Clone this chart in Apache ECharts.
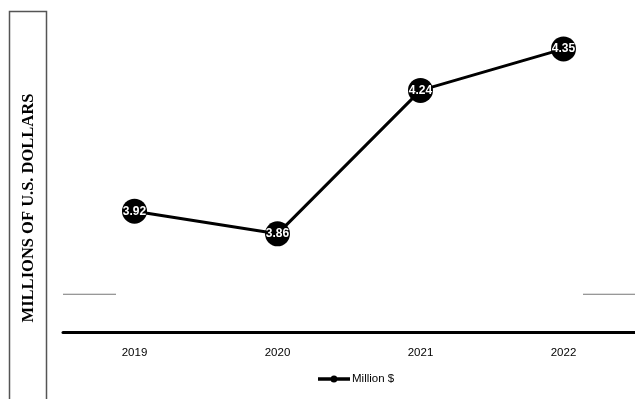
<!DOCTYPE html>
<html>
<head>
<meta charset="utf-8">
<script src="https://cdn.jsdelivr.net/npm/echarts@6/dist/echarts.min.js"></script>
<style>
  html, body { margin: 0; padding: 0; background: #fff; }
  #chart { width: 635px; height: 399px; }
</style>
</head>
<body>
<div id="chart"></div>
<script>
// Annual values in millions of U.S. dollars
const years = ['2019', '2020', '2021', '2022'];
const millions = [3.92, 3.86, 4.24, 4.35];
const seriesName = 'Million $';
const axisTitle = 'MILLIONS OF U.S. DOLLARS';
const yMin = 3.6;
const yMax = 4.4;
const refLevel = 3.7;

const chart = echarts.init(document.getElementById('chart'), null, { renderer: 'canvas' });

chart.setOption({
  animation: false,
  backgroundColor: '#ffffff',
  grid: { left: 63, right: 0, top: 30, bottom: 67, containLabel: false },
  legend: {
    bottom: 9,
    left: 313,
    itemWidth: 32,
    itemHeight: 8,
    itemGap: 4,
    textStyle: { fontFamily: 'Liberation Sans', fontSize: 11.5, color: '#000', padding: [0, 0, 0, -3] },
    data: [{
      name: seriesName,
      // line with a small point marker in the middle
      icon: 'path://M0,2.3 L32,2.3 L32,5.7 L0,5.7 Z M16,0.5 A3.5,3.5 0 1 1 15.99,0.5 Z'
    }]
  },
  xAxis: {
    type: 'category',
    data: years,
    boundaryGap: true,
    axisLine: { show: true, lineStyle: { color: '#000', width: 3 } },
    axisTick: { show: false },
    axisLabel: { color: '#000', fontFamily: 'Liberation Sans', fontSize: 11.5, margin: 15 },
    splitLine: { show: false }
  },
  yAxis: {
    type: 'value',
    min: yMin,
    max: yMax,
    axisLine: { show: false },
    axisTick: { show: false },
    axisLabel: { show: false },
    splitLine: { show: false }
  },
  series: [{
    name: seriesName,
    type: 'line',
    data: millions,
    symbol: 'circle',
    symbolSize: 25,
    itemStyle: { color: '#000' },
    lineStyle: { color: '#000', width: 3 },
    label: {
      show: true,
      position: 'inside',
      color: '#fff',
      fontWeight: 'bold',
      fontFamily: 'Liberation Sans',
      fontSize: 12,
      formatter: p => p.value.toFixed(2)
    }
  }]
});

// Side panel with the rotated axis title, and the visible ends of the reference level line
const refY = chart.convertToPixel({ yAxisIndex: 0 }, refLevel);
chart.setOption({
  graphic: [
    {
      type: 'rect',
      shape: { x: 9.5, y: 11.5, width: 37, height: 400 },
      style: { fill: 'none', stroke: '#555', lineWidth: 1.5 },
      silent: true
    },
    {
      type: 'text',
      x: 29,
      y: 208,
      rotation: Math.PI / 2,
      style: {
        text: axisTitle,
        font: 'bold 16.5px "Liberation Serif", serif',
        fill: '#000',
        align: 'center',
        verticalAlign: 'middle'
      },
      silent: true
    },
    {
      type: 'line',
      shape: { x1: 63, y1: refY, x2: 116, y2: refY },
      style: { stroke: '#777', lineWidth: 1 },
      silent: true
    },
    {
      type: 'line',
      shape: { x1: 583, y1: refY, x2: 635, y2: refY },
      style: { stroke: '#777', lineWidth: 1 },
      silent: true
    }
  ]
});
</script>
</body>
</html>
